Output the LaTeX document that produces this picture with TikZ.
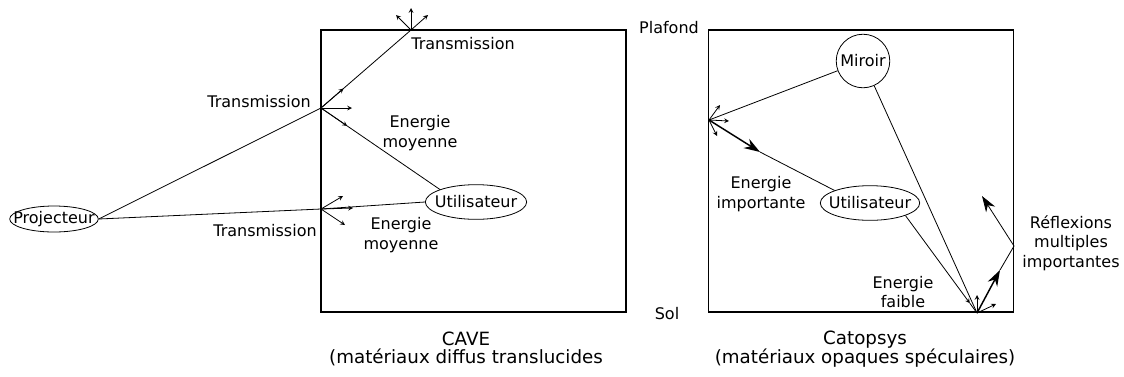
\documentclass[tikz,border=0pt]{standalone}
\usepackage{fontspec}
\setmainfont{DejaVu Sans}
\usetikzlibrary{shapes.geometric,arrows.meta,calc}

\begin{document}
\begin{tikzpicture}[
        x=0.75pt, y=-0.75pt,
        font=\fontsize{12}{14.5}\selectfont,
        room/.style={rectangle, draw, line width=1.4pt, minimum width=228.75pt, minimum height=211.5pt, inner sep=0pt},
        actor/.style={ellipse, draw, line width=0.6pt, inner xsep=-4pt, inner ysep=0pt, minimum height=26pt},
        lbl/.style={align=center, inner sep=0pt},
        caption/.style={lbl, font=\fontsize{13.7}{14}\selectfont},
        ray/.style={line width=0.6pt},
        spread/.style={->, >=stealth, line width=0.6pt},
        bigarrow/.style={-{Stealth[length=12pt, width=8pt]}, line width=1.1pt},
        bighead/.style={-{Stealth[length=12pt, width=8pt]}, line width=0.6pt}
    ]
        \useasboundingbox (0,0) rectangle (1124,376);

        % Rooms
        \node[room] (cave) at (473.5,171) {};
        \node[room] (catop) at (861,171) {};
        \node[caption] (cavelbl) at (466,349) {CAVE\\(matériaux diffus translucides};
        \node[caption] (catoplbl) at (865,349) {Catopsys\\(matériaux opaques spéculaires)};
        \node[lbl] (plafond) at (669,28) {Plafond};
        \node[lbl] (sol) at (667,314) {Sol};

        % CAVE
        \node[actor, inner xsep=-7pt, minimum height=19.5pt] (proj) at (54,219) {Projecteur};
        \node[actor] (userA) at (476,202) {Utilisateur};
        \coordinate (tA) at (321,108);
        \coordinate (tB) at (411,30);
        \coordinate (tC) at (321,209);

        \draw[ray] (proj.east) -- (tA) -- (tB);
        \draw[spread] (tA) -- ($(tA)!0.25!(tB)$);
        \draw[spread] (tA) -- (352,108);
        \draw[ray] (tA) -- (userA.north west);
        \draw[spread] (tA) -- ($(tA)!0.22!(userA.north west)$);
        \draw[spread] (tB) -- (411,8);
        \draw[spread] (tB) -- (396,15);
        \draw[spread] (tB) -- (428,15);

        \draw[ray] (proj.east) -- (tC) -- (userA.west);
        \draw[spread] (tC) -- (353,208);
        \draw[spread] (tC) -- (343,196);
        \draw[spread] (tC) -- (345,225);

        \node[lbl] (trA) at (463,44) {Transmission};
        \node[lbl] (trB) at (259,102) {Transmission};
        \node[lbl] (trC) at (265,231) {Transmission};
        \node[lbl] (enA) at (420,133) {Energie\\moyenne};
        \node[lbl] (enB) at (401,235) {Energie\\moyenne};

        % Catopsys
        \node[circle, draw, line width=0.6pt, inner sep=2pt] (miroir) at (863,61) {Miroir};
        \node[actor, inner xsep=-4.5pt] (userB) at (870,203) {Utilisateur};
        \coordinate (wL) at (709,120);
        \coordinate (fl) at (977,313);
        \coordinate (wR) at (1014,246);
        \coordinate (mL) at (760,152);
        \coordinate (mR) at (1000,270);
        \coordinate (tR) at (982,196);
        \coordinate (mU) at ($(userB.south east)!0.9!(fl)$);

        \draw[ray] (miroir) -- (wL);
        \draw[spread] (wL) -- (720,105);
        \draw[spread] (wL) -- (729,121);
        \draw[spread] (wL) -- (717,136);
        \draw[bigarrow] (wL) -- (mL);
        \draw[ray] (mL) -- (userB.north west);

        \draw[ray] (miroir) -- (fl);
        \draw[spread] (userB.south east) -- (mU);
        \draw[ray] (mU) -- (fl);
        \draw[spread] (fl) -- (977,295);
        \draw[spread] (fl) -- (996,304);
        \draw[bigarrow] (fl) -- (mR);
        \draw[ray] (mR) -- (wR);
        \draw[bighead] (wR) -- (tR);

        \node[lbl] (enC) at (761,194) {Energie\\importante};
        \node[lbl] (enD) at (903,292) {Energie\\faible};
        \node[lbl] (refl) at (1071,243) {Réflexions\\multiples\\importantes};
    \end{tikzpicture}
\end{document}
